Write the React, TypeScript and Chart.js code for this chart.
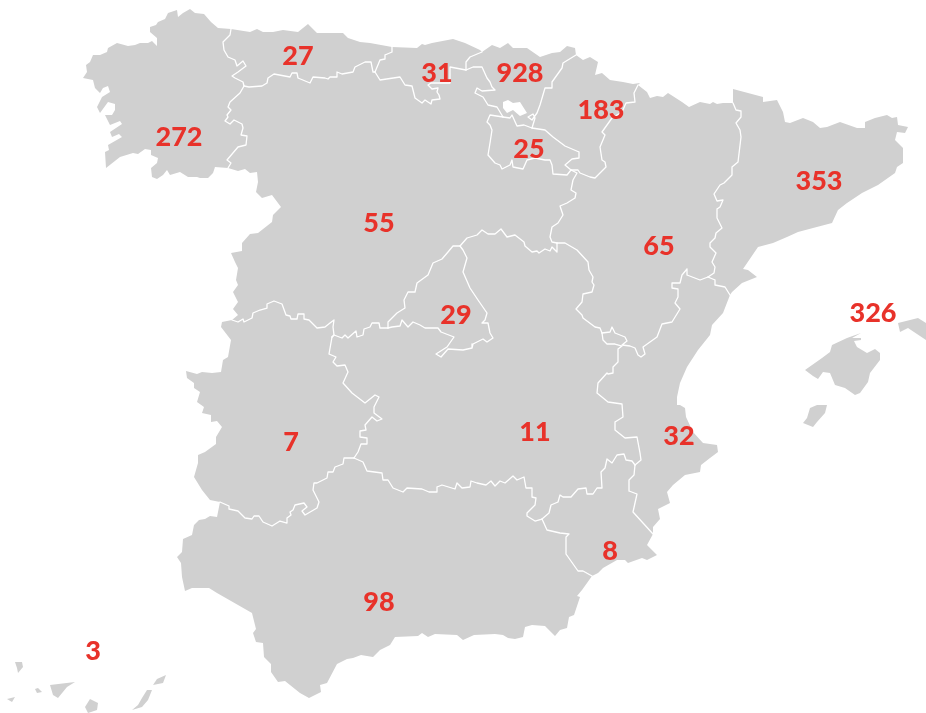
import React, { useEffect, useRef } from "react";
import { Chart, registerables } from "chart.js";

Chart.register(...registerables);

type P = number[];

// Map outlines, in the map's own coordinate system (x east, y south).
const coastGalicia: P[] = [[231,29],[218,28],[211,22],[204,14],[195,13],[190,9],[183,13],[178,17],[177,10],[168,13],[165,19],[158,22],[156,25],[150,27],[150,32],[157,38],[157,46],[152,41],[148,43],[140,43],[135,45],[128,46],[117,43],[108,48],[107,52],[100,55],[93,55],[90,62],[86,65],[87,72],[83,78],[93,80],[95,88],[100,93],[103,88],[108,86],[110,92],[102,97],[97,107],[100,113],[108,102],[115,104],[115,110],[112,115],[105,115],[110,125],[120,121],[122,124],[110,132],[112,137],[119,134],[122,137],[108,145],[109,150],[105,152],[106,168],[120,157],[133,153],[138,154],[145,149],[151,150],[151,155],[158,158],[157,163],[151,168],[152,177],[157,179],[163,175],[167,170],[170,175],[180,172],[188,177],[197,177],[200,178],[208,178],[213,173],[215,167],[228,168]];
const coastCyL: P[] = [[228,168],[238,171],[245,169],[250,173],[257,172],[258,182],[256,192],[262,198],[272,195],[281,207],[273,215],[272,222],[258,233],[250,234],[242,243],[242,251],[231,253],[235,262],[238,268],[236,280],[238,285],[233,292],[238,302],[233,309],[238,315],[232,320]];
const coastExtremadura: P[] = [[232,320],[222,322],[221,327],[231,340],[228,357],[223,360],[221,372],[212,373],[202,372],[197,374],[186,371],[187,378],[194,383],[194,388],[200,392],[197,402],[204,407],[202,413],[211,415],[211,422],[217,421],[222,427],[216,437],[216,444],[205,452],[198,455],[198,463],[194,477],[202,490],[210,500],[220,502]];
const coastAndalucia: P[] = [[220,502],[217,517],[210,516],[205,519],[199,520],[194,525],[192,535],[183,539],[182,552],[177,557],[181,563],[182,577],[185,591],[192,588],[209,588],[217,593],[252,613],[256,629],[253,633],[256,642],[263,643],[264,657],[271,664],[271,672],[278,682],[285,681],[300,693],[309,698],[321,692],[320,685],[327,683],[337,664],[347,659],[353,658],[361,655],[373,657],[380,650],[390,645],[395,637],[418,636],[422,633],[428,637],[435,634],[457,635],[463,640],[474,635],[495,634],[503,635],[508,638],[515,639],[523,637],[525,627],[532,625],[545,626],[555,636],[560,630],[567,628],[569,617],[574,615],[580,597],[577,596],[582,590],[592,576]];
const coastMurcia: P[] = [[592,576],[598,573],[603,568],[617,560],[625,560],[628,563],[642,558],[647,560],[657,555],[647,545],[653,534]];
const coastValencia: P[] = [[653,534],[653,527],[660,519],[658,509],[670,503],[667,492],[673,485],[685,475],[700,472],[701,465],[710,458],[718,452],[717,445],[703,443],[693,432],[686,417],[685,408],[680,405],[677,405],[677,397],[680,383],[687,367],[698,350],[710,335],[712,325],[723,313],[730,295]];
const coastCatalunya: P[] = [[730,295],[732,292],[742,283],[757,277],[748,270],[743,269],[758,247],[773,243],[787,237],[798,232],[813,228],[832,223],[838,210],[847,203],[862,193],[878,185],[895,173],[897,167],[903,163],[903,148],[895,140],[897,132],[905,133],[908,127],[898,125],[897,117],[892,118],[887,115],[875,118],[865,122],[865,128],[857,128],[840,122],[827,127],[820,128],[813,122],[803,118],[790,123],[785,122],[783,112],[777,100],[763,102],[763,97],[733,89],[733,103]];
const coastAragon: P[] = [[733,103],[723,103],[717,104],[713,102],[710,104],[700,102],[689,107],[682,102],[668,93],[663,97],[657,96],[650,98],[647,92],[638,85]];
const coastNavarra: P[] = [[638,85],[640,83],[633,84],[623,82],[610,80],[602,73],[595,75],[598,62],[590,57],[583,60],[576,55]];
const coastEuskadi: P[] = [[576,55],[575,48],[567,46],[560,52],[552,53],[540,57],[527,48],[513,48],[508,43],[500,48],[492,45],[482,52]];
const coastCantabria: P[] = [[482,52],[480,50],[465,43],[453,39],[432,43],[425,45],[422,44],[417,48],[392,47]];
const coastAsturias: P[] = [[392,47],[370,43],[360,42],[348,38],[343,33],[332,33],[317,33],[308,24],[298,32],[283,30],[273,32],[263,32],[257,29],[250,32],[231,29]];

const borderGalAst: P[] = [[231,29],[230,35],[223,42],[224,50],[228,57],[235,60],[237,66],[243,61],[246,66],[238,72],[232,76],[235,78],[243,82],[244,86]];
const borderGalCyl: P[] = [[244,86],[240,93],[230,102],[228,107],[231,110],[227,115],[228,117],[225,121],[230,124],[234,120],[242,124],[243,128],[241,135],[247,136],[246,145],[238,147],[227,160],[231,163],[228,168]];
const borderAstCyl: P[] = [[244,86],[249,87],[262,86],[267,83],[268,78],[274,74],[290,77],[292,73],[297,73],[298,78],[310,83],[313,77],[325,78],[328,79],[330,77],[337,77],[337,72],[342,74],[353,72],[355,67],[365,62],[371,62],[373,72],[375,72]];
const borderAstCant: P[] = [[392,47],[392,52],[385,55],[385,59],[380,60],[375,72]];
const borderCantCyl: P[] = [[375,72],[380,80],[400,77],[405,85],[412,86],[415,98],[422,103],[425,100],[431,104],[432,100],[440,99],[439,95],[437,92],[438,88],[432,89],[428,85],[431,83],[450,83],[450,67],[466,70]];
const borderCantEus: P[] = [[482,52],[470,57],[466,62],[466,70]];
const borderEusCyl: P[] = [[466,70],[473,67],[482,67],[487,78],[490,82],[492,87],[495,90],[482,91],[477,88],[475,93],[483,97],[488,105],[497,107],[503,117]];
const borderRiojaEus: P[] = [[503,117],[510,118],[512,115],[517,126],[524,125],[532,128]];
const borderEusNav: P[] = [[532,128],[535,118],[533,114],[528,117],[532,120],[537,113],[540,105],[545,88],[552,88],[552,82],[562,68],[563,63],[576,55]];
const borderRiojaNav: P[] = [[532,128],[545,130],[553,137],[565,146],[579,152],[579,158],[572,159],[565,165],[571,170]];
const borderRiojaCyl: P[] = [[503,117],[490,115],[487,122],[490,125],[492,130],[490,143],[488,155],[495,163],[500,165],[502,169],[510,165],[512,160],[513,167],[523,169],[527,160],[535,158],[545,160],[550,160],[552,165],[553,174],[567,175],[571,170]];
const borderNavAra: P[] = [[571,170],[578,170],[580,173],[590,177],[595,178],[600,173],[606,167],[605,162],[602,160],[600,147],[605,135],[602,132],[607,125],[612,118],[622,112],[626,103],[635,102],[634,93],[638,85]];
const borderCylAra: P[] = [[571,170],[577,173],[573,180],[571,190],[576,193],[575,198],[567,203],[560,206],[563,215],[558,223],[552,227],[550,237],[552,242],[557,243]];
const borderAraClm: P[] = [[557,243],[565,243],[577,250],[588,262],[589,270],[593,277],[592,282],[594,285],[592,292],[583,294],[582,302],[576,309],[582,315],[583,318],[595,327],[600,328],[602,333]];
const borderAraVal: P[] = [[602,333],[610,332],[612,327],[615,333],[625,337],[627,341],[622,345],[630,346],[635,348],[638,355],[641,357],[645,354],[643,347],[657,337],[662,324],[672,322],[680,309],[675,303],[678,297],[678,289],[672,288],[672,283],[680,283],[682,275],[687,269],[687,275],[700,280],[708,277]];
const borderCatAra: P[] = [[733,103],[736,110],[741,111],[741,117],[736,123],[740,130],[741,137],[738,162],[732,167],[732,175],[724,183],[720,185],[714,194],[717,201],[723,200],[720,207],[717,209],[717,218],[722,228],[716,233],[715,238],[710,243],[710,247],[716,253],[712,262],[715,267],[714,273],[708,277]];
const borderCatVal: P[] = [[708,277],[715,280],[715,285],[725,287],[730,295]];
const borderClmVal: P[] = [[602,333],[603,340],[607,344],[615,344],[622,346],[618,349],[618,362],[613,367],[613,373],[608,374],[607,373],[598,383],[597,393],[608,402],[622,404],[623,417],[615,422],[615,430],[625,438],[637,437],[640,453],[641,460],[635,465]];
const borderMurVal: P[] = [[635,465],[634,475],[629,480],[629,491],[637,494],[633,512],[653,534]];
const borderMurClm: P[] = [[635,465],[632,461],[626,460],[624,454],[617,455],[612,463],[607,459],[605,468],[601,472],[602,488],[597,488],[593,494],[587,494],[586,488],[578,489],[571,497],[563,497],[560,495],[558,502],[551,505],[549,513],[542,519]];
const borderMurAnd: P[] = [[542,519],[547,530],[560,533],[569,534],[566,537],[566,554],[578,571],[583,571],[592,576]];
const borderClmAnd: P[] = [[542,519],[535,521],[527,516],[527,513],[535,505],[536,498],[532,497],[532,488],[526,488],[524,477],[517,480],[513,476],[505,483],[500,481],[495,486],[491,481],[486,485],[477,483],[471,481],[470,487],[462,488],[457,483],[455,489],[442,485],[437,487],[437,492],[429,492],[422,489],[407,488],[403,492],[393,488],[388,480],[383,480],[382,473],[367,471],[363,462],[354,458]];
const borderExtAnd: P[] = [[354,458],[344,458],[343,464],[335,467],[333,472],[328,472],[327,478],[317,483],[314,483],[313,490],[319,502],[317,508],[305,515],[302,511],[307,507],[304,503],[295,505],[293,510],[290,512],[291,515],[287,518],[287,523],[280,521],[272,526],[263,522],[259,516],[254,516],[252,519],[245,518],[238,511],[229,509],[229,506],[220,502]];
const borderExtClm: P[] = [[354,458],[358,452],[361,444],[367,444],[367,438],[360,437],[360,431],[366,430],[365,425],[372,417],[377,421],[382,419],[374,413],[374,407],[379,397],[375,395],[365,403],[352,393],[343,383],[348,372],[345,365],[337,366],[333,362],[336,357],[329,354],[332,337]];
const borderExtCyl: P[] = [[232,320],[238,322],[243,319],[244,322],[252,318],[253,313],[260,310],[267,308],[267,304],[274,301],[282,304],[286,315],[290,316],[291,319],[297,319],[298,314],[304,314],[304,319],[309,320],[317,328],[325,327],[330,323],[334,320],[333,327],[334,335],[332,337]];
const borderCylClmWest: P[] = [[332,337],[334,335],[342,338],[345,335],[348,338],[356,331],[357,337],[363,335],[364,329],[370,327],[372,323],[379,323],[380,328],[388,328]];
const borderCylMad: P[] = [[388,328],[388,322],[397,313],[405,308],[404,300],[408,292],[415,292],[417,283],[428,275],[433,263],[442,259],[448,252],[453,246],[460,246]];
const borderMadClm: P[] = [[460,246],[463,250],[467,258],[463,272],[470,288],[478,300],[487,313],[485,320],[482,323],[488,323],[490,333],[493,338],[487,342],[483,339],[473,344],[472,348],[463,350],[448,349],[441,357],[436,354],[447,347],[454,337],[441,332],[438,328],[425,328],[420,325],[413,322],[408,327],[402,320],[400,326],[392,327],[388,328]];
const borderCylClmEast: P[] = [[460,246],[467,238],[477,235],[482,230],[488,234],[495,234],[501,229],[507,237],[515,235],[524,242],[525,246],[532,252],[537,251],[539,253],[545,249],[550,251],[552,247],[557,252],[557,243]];

const mallorca: P[] = [[861,333],[847,338],[832,345],[830,352],[822,358],[805,370],[813,376],[818,379],[823,372],[830,373],[835,385],[845,388],[855,395],[860,393],[868,382],[870,373],[880,360],[880,353],[875,349],[867,353],[857,347],[854,341],[861,340],[861,338],[852,338],[861,333]];
const ibiza: P[] = [[827,405],[817,405],[810,408],[807,418],[803,423],[813,427],[817,422],[825,413],[827,405]];
const menorca: P[] = [[898,323],[918,318],[926,323],[926,340],[908,328],[900,332],[898,323]];
const laPalma: P[] = [[15,662],[22,662],[23,667],[18,673],[17,668],[15,662]];
const hierro: P[] = [[7,699],[15,697],[12,702],[7,699]];
const gomera: P[] = [[35,689],[38,688],[42,692],[37,693],[35,689]];
const tenerife: P[] = [[50,685],[75,682],[67,687],[58,698],[53,695],[50,685]];
const granCanaria: P[] = [[90,699],[98,703],[97,710],[88,713],[85,707],[90,699]];
const fuerteventura: P[] = [[147,690],[152,690],[148,700],[142,707],[132,710],[138,705],[142,698],[147,690]];
const lanzarote: P[] = [[166,675],[163,683],[153,685],[157,679],[166,675]];
const alavaHole: P[] = [[503,102],[508,100],[513,103],[520,102],[527,113],[520,116],[513,110],[507,113],[503,108],[503,102]];

const back = (s: P[]) => [...s].reverse();

const regions: P[][] = [
  [...coastGalicia, ...back(borderGalCyl), ...back(borderGalAst)],
  [...coastAsturias, ...borderGalAst, ...borderAstCyl, ...back(borderAstCant)],
  [...coastCantabria, ...borderAstCant, ...borderCantCyl, ...back(borderCantEus)],
  [...coastEuskadi, ...borderCantEus, ...borderEusCyl, ...borderRiojaEus, ...borderEusNav],
  [...coastNavarra, ...back(borderEusNav), ...borderRiojaNav, ...borderNavAra],
  [...borderRiojaEus, ...borderRiojaNav, ...back(borderRiojaCyl)],
  [...coastAragon, ...back(borderNavAra), ...borderCylAra, ...borderAraClm, ...borderAraVal, ...back(borderCatAra)],
  [...coastCatalunya, ...borderCatAra, ...borderCatVal],
  [...coastCyL, ...borderExtCyl, ...borderCylClmWest, ...borderCylMad, ...borderCylClmEast, ...back(borderCylAra), ...back(borderRiojaCyl), ...back(borderEusCyl), ...back(borderCantCyl), ...back(borderAstCyl), ...borderGalCyl],
  [...borderCylMad, ...borderMadClm],
  [...borderCylClmWest, ...back(borderMadClm), ...borderCylClmEast, ...borderAraClm, ...borderClmVal, ...borderMurClm, ...borderClmAnd, ...borderExtClm],
  [...coastValencia, ...back(borderCatVal), ...back(borderAraVal), ...borderClmVal, ...borderMurVal],
  [...coastMurcia, ...back(borderMurVal), ...borderMurClm, ...borderMurAnd],
  [...coastAndalucia, ...back(borderMurAnd), ...borderClmAnd, ...borderExtAnd],
  [...coastExtremadura, ...back(borderExtAnd), ...borderExtClm, ...back(borderExtCyl)],
  mallorca, ibiza, menorca, laPalma, hierro, gomera, tenerife, granCanaria, fuerteventura, lanzarote,
];

const borders: P[][] = [
  borderGalAst, borderGalCyl, borderAstCyl, borderAstCant, borderCantCyl, borderCantEus, borderEusCyl,
  borderRiojaEus, borderEusNav, borderRiojaNav, borderRiojaCyl, borderNavAra, borderCylAra, borderAraClm,
  borderAraVal, borderCatAra, borderCatVal, borderClmVal, borderMurVal, borderMurClm, borderMurAnd,
  borderClmAnd, borderExtAnd, borderExtClm, borderExtCyl, borderCylClmWest, borderCylMad, borderMadClm,
  borderCylClmEast,
];

// Region values and where each one sits on the map.
const regionValues = ["272","27","31","928","183","25","353","55","65","29","326","7","11","32","8","98","3"];
const valueAnchorX = [179,298,437,520,601,529,819,379,659,456,873,291,535,679,610,379,93];
const valueAnchorY = [137,56,73,73,110,149,181,223,246,315,313,442,432,436,551,602,651];

const LAND = "#d0d0d0";
const RED = "#e8322a";

// Fills each closed outline from its points as placed by the chart's scales.
const regionFill = {
  id: "regionFill",
  beforeDatasetDraw(chart: any, args: any) {
    const ds = chart.data.datasets[args.index];
    if (!ds.areaColor) return;
    const pts = chart.getDatasetMeta(args.index).data;
    const ctx = chart.ctx;
    ctx.save();
    ctx.beginPath();
    pts.forEach((p: any, i: number) => (i ? ctx.lineTo(p.x, p.y) : ctx.moveTo(p.x, p.y)));
    ctx.closePath();
    ctx.fillStyle = ds.areaColor;
    ctx.fill();
    ctx.restore();
  },
};

const valueLabels = {
  id: "valueLabels",
  afterDatasetsDraw(chart: any) {
    const idx = chart.data.datasets.findIndex((d: any) => d.label === "values");
    const meta = chart.getDatasetMeta(idx);
    const ctx = chart.ctx;
    ctx.save();
    ctx.font = "900 27px Lato";
    ctx.fillStyle = RED;
    ctx.textAlign = "center";
    ctx.textBaseline = "middle";
    meta.data.forEach((pt: any, i: number) => ctx.fillText(regionValues[i], pt.x, pt.y));
    ctx.restore();
  },
};

export default function App() {
  const ref = useRef<HTMLCanvasElement>(null);
  useEffect(() => {
    document.body.style.margin = "0";
    const toXY = (pts: P[]) => pts.map(([x, y]) => ({ x, y }));
    const common = { type: "scatter", pointRadius: 0, pointHoverRadius: 0, clip: false };
    const chart = new Chart(ref.current as HTMLCanvasElement, {
      type: "scatter",
      data: {
        datasets: [
          ...regions.map((r) => ({ ...common, data: toXY(r), showLine: false, areaColor: LAND, order: 3 })),
          ...borders.map((b) => ({
            ...common,
            data: toXY(b),
            showLine: true,
            fill: false,
            borderColor: "#ffffff",
            borderWidth: 1.3,
            borderJoinStyle: "round",
            borderCapStyle: "round",
            order: 2,
          })),
          { ...common, data: toXY(alavaHole), showLine: false, areaColor: "#ffffff", order: 1 },
          {
            ...common,
            label: "values",
            data: regionValues.map((_, i) => ({ x: valueAnchorX[i], y: valueAnchorY[i] })),
            showLine: false,
            order: 0,
          },
        ] as any,
      },
      options: {
        responsive: false,
        animation: false,
        layout: { padding: 0 },
        plugins: { legend: { display: false }, tooltip: { enabled: false } },
        scales: {
          x: { type: "linear", min: 0, max: 926, display: false },
          y: { type: "linear", min: 0, max: 713, reverse: true, display: false },
        },
      },
      plugins: [regionFill, valueLabels],
    } as any);
    return () => chart.destroy();
  }, []);
  return <canvas ref={ref} width={926} height={713} style={{ display: "block" }} />;
}
